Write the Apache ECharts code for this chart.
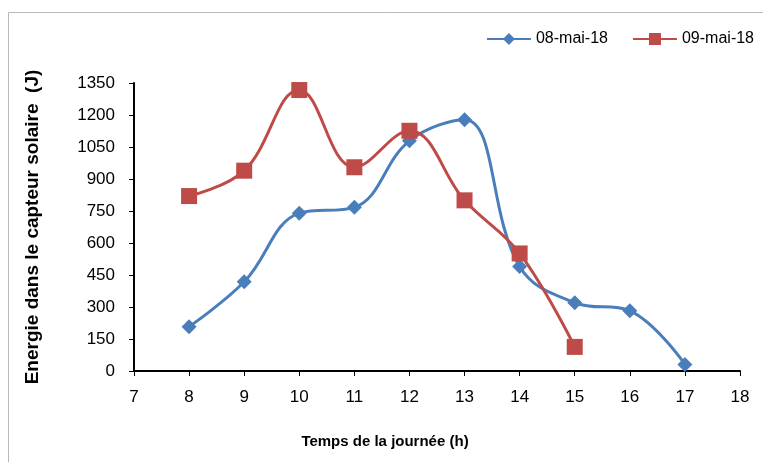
<!DOCTYPE html>
<html><head><meta charset="utf-8">
<script src="https://cdn.jsdelivr.net/npm/echarts@6/dist/echarts.min.js"></script>
<style>html,body{margin:0;padding:0;background:#fff}#c{width:763px;height:462px}</style>
</head><body><div id="c"></div>
<script>
const hours = [8, 9, 10, 11, 12, 13, 14, 15, 16, 17];
const mai08 = [208, 418, 740, 767, 1079, 1178, 490, 320, 282, 31];
const mai09 = [820, 939, 1317, 955, 1126, 800, 551, 113];
const seriesNames = ['08-mai-18', '09-mai-18'];
const font = '"Liberation Sans", Arial, sans-serif';
const chart = echarts.init(document.getElementById('c'));
chart.setOption({
  animation: false,
  graphic: [{type: 'rect', shape: {x: 8.5, y: 12.5, width: 800, height: 500}, style: {fill: 'none', stroke: '#b8b8b8', lineWidth: 1}}],
  legend: {
    top: 26, right: 4, itemWidth: 44, itemHeight: 15, itemGap: 24,
    textStyle: {fontFamily: font, fontSize: 16, color: '#000'},
    data: seriesNames
  },
  grid: {left: 134, right: 23, top: 83, bottom: 91},
  xAxis: {
    type: 'value', min: 7, max: 18, interval: 1,
    name: 'Temps de la journée (h)', nameLocation: 'middle', nameGap: 63,
    nameTextStyle: {fontFamily: font, fontSize: 15, fontWeight: 'bold', color: '#000', padding: [0, 104, 0, 0]},
    axisLine: {lineStyle: {color: '#000', width: 2}},
    axisTick: {show: true, length: 5, lineStyle: {color: '#000', width: 1}},
    axisLabel: {fontFamily: font, fontSize: 17, color: '#000', margin: 18, formatter: v => String(v)},
    splitLine: {show: false}
  },
  yAxis: {
    type: 'value', min: 0, max: 1350, interval: 150,
    name: 'Energie dans le capteur solaire  (J)', nameLocation: 'middle', nameGap: 92,
    nameTextStyle: {fontFamily: font, fontSize: 19, fontWeight: 'bold', color: '#000'},
    axisLine: {show: true, lineStyle: {color: '#000', width: 2}},
    axisTick: {show: true, length: 5, lineStyle: {color: '#000', width: 1}},
    axisLabel: {fontFamily: font, fontSize: 17, color: '#000', margin: 19, formatter: v => String(v)},
    splitLine: {show: false}
  },
  series: [
    {
      name: seriesNames[0], type: 'line', smooth: 0.4,
      data: hours.map((h, i) => [h, mai08[i]]),
      symbol: 'diamond', symbolSize: 15,
      lineStyle: {color: '#4a7ebb', width: 3},
      itemStyle: {color: '#4a7ebb'}
    },
    {
      name: seriesNames[1], type: 'line', smooth: 0.4,
      data: mai09.map((v, i) => [hours[i], v]),
      symbol: 'rect', symbolSize: 16,
      lineStyle: {color: '#be4b48', width: 3},
      itemStyle: {color: '#be4b48'}
    }
  ]
});
</script></body></html>
